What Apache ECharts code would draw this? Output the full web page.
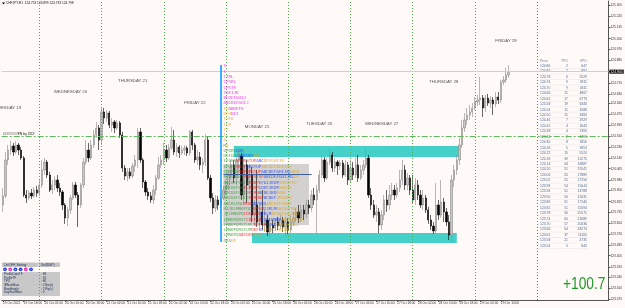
<!DOCTYPE html>
<html><head><meta charset="utf-8">
<script src="https://cdn.jsdelivr.net/npm/echarts@6/dist/echarts.min.js"></script>
<style>html,body{margin:0;padding:0;background:#fffaf7;}#c{width:625px;height:308px;}</style>
</head><body><div id="c"></div>
<script>
// ---------- DATA ----------
const symbolTitle = 'CHFJPY,H1  124.753 124.899 124.733 124.798';
const xTickLabels = ['19 Oct 2021','19 Oct 18:00','20 Oct 02:00','20 Oct 10:00','20 Oct 18:00','21 Oct 02:00','21 Oct 10:00','21 Oct 18:00','22 Oct 02:00','22 Oct 10:00','22 Oct 18:00','25 Oct 02:00','25 Oct 10:00','25 Oct 18:00','26 Oct 02:00','26 Oct 10:00','26 Oct 18:00','27 Oct 02:00','27 Oct 10:00','27 Oct 18:00','28 Oct 02:00','28 Oct 10:00','28 Oct 18:00','29 Oct 02:00','29 Oct 10:00'];
const priceTicks = [125.305,125.220,125.135,125.050,124.970,124.885,124.800,124.715,124.630,124.560,124.475,124.395,124.310,124.230,124.145,124.065,123.980,123.900,123.815,123.735,123.650,123.570,123.485,123.405,123.320,123.240,123.160,123.075];
// candles: [open, close, low, high]
const candles = [
[123.790,123.858,123.737,123.918],[123.858,124.131,123.843,124.191],[124.131,124.206,124.093,124.244],[124.206,124.237,124.168,124.275],
[124.237,124.191,124.161,124.259],[124.191,124.244,124.176,124.275],[124.244,124.206,124.168,124.259],[124.206,124.146,124.131,124.229],
[124.146,123.865,123.850,124.161],[123.865,123.843,123.805,123.903],[123.843,123.880,123.828,123.903],[123.880,123.858,123.835,123.911],
[123.858,123.903,123.843,123.926],[123.903,123.880,123.850,123.934],
[123.880,123.941,123.858,123.979],[123.941,124.055,123.918,124.131],[124.055,124.115,124.017,124.146],[124.115,124.017,123.994,124.131],
[124.017,123.903,123.888,124.040],[123.903,123.941,123.873,123.979],[123.941,123.979,123.903,124.009],[123.979,123.918,123.888,124.017],
[123.918,123.888,123.858,123.956],[123.888,123.790,123.752,123.903],[123.790,123.691,123.646,123.805],[123.691,123.752,123.630,123.775],
[123.752,123.843,123.721,123.865],[123.843,123.941,123.828,123.964],[123.941,123.865,123.843,123.964],[123.865,123.790,123.623,123.888],
[123.790,123.941,123.767,123.956],[123.941,124.115,123.918,124.146],[124.115,124.206,124.093,124.282],[124.206,124.146,124.115,124.259],
[124.146,124.244,124.131,124.282],[124.244,124.320,124.222,124.358],[124.320,124.373,124.297,124.419],[124.373,124.282,124.206,124.396],
[124.282,124.494,124.244,124.532],[124.494,124.449,124.403,124.525],[124.449,124.487,124.419,124.509],[124.487,124.396,124.373,124.502],
[124.396,124.419,124.343,124.449],[124.419,124.373,124.335,124.434],[124.373,124.411,124.358,124.434],[124.411,124.320,124.297,124.426],
[124.320,124.070,124.040,124.343],[124.070,124.009,123.979,124.093],[124.009,124.040,123.971,124.070],[124.040,124.009,123.987,124.070],
[124.009,124.085,123.994,124.108],[124.085,124.131,124.040,124.168],[124.131,124.343,124.070,124.373],[124.343,124.131,124.108,124.373],
[124.131,123.964,123.918,124.146],[123.964,123.888,123.858,123.979],[123.888,123.858,123.828,123.918],[123.858,123.828,123.805,123.888],
[123.828,123.903,123.797,123.941],[123.903,123.994,123.865,124.017],[123.994,124.093,123.979,124.153],[124.093,124.131,124.070,124.168],
[124.131,124.206,124.093,124.259],[124.206,124.146,124.115,124.244],[124.146,124.222,124.131,124.252],[124.222,124.282,124.206,124.381],
[124.282,124.191,124.168,124.358],[124.191,124.229,124.153,124.259],[124.229,124.184,124.146,124.244],[124.184,124.206,124.168,124.237],
[124.206,124.222,124.168,124.244],[124.222,124.184,124.161,124.237],[124.184,124.343,124.161,124.358],[124.343,124.244,124.206,124.358],
[124.244,124.131,124.108,124.259],[124.131,124.153,124.093,124.206],[124.153,124.093,124.055,124.191],[124.093,124.115,124.032,124.146],
[124.115,124.282,124.085,124.328],[124.282,123.994,123.979,124.305],[123.994,123.843,123.812,124.017],[123.843,123.767,123.721,123.880],
[123.767,123.828,123.737,123.865],[123.828,123.790,123.752,123.858],[123.790,123.843,123.767,123.865],[123.843,123.903,123.828,123.934],
[123.903,123.941,123.865,123.979],[123.941,124.017,123.903,124.055],[124.017,124.093,123.979,124.131],[124.093,123.994,123.956,124.131],
[123.994,124.131,123.941,124.153],[124.131,124.161,124.055,124.206],[124.161,123.865,123.828,124.184],[123.865,124.093,123.790,124.206],
[124.093,123.941,123.805,124.131],[123.941,124.017,123.903,124.093],[124.017,123.714,123.661,124.078],[123.714,123.790,123.638,123.828],
[123.790,123.661,123.623,124.055],[123.661,123.737,123.615,123.790],[123.737,123.638,123.600,123.903],[123.638,123.676,123.585,123.752],
[123.676,123.585,123.555,123.714],[123.585,123.638,123.547,123.691],[123.638,123.615,123.577,123.676],[123.615,123.661,123.593,123.691],
[123.661,123.630,123.600,123.699],[123.630,123.676,123.608,123.714],[123.676,123.623,123.585,123.699],[123.623,123.661,123.555,123.699],
[123.661,123.600,123.570,123.691],[123.600,123.661,123.577,123.714],[123.661,123.691,123.630,123.737],[123.691,123.737,123.661,123.767],
[123.737,123.691,123.653,123.790],[123.691,123.752,123.661,123.790],[123.752,123.721,123.676,123.790],[123.721,123.790,123.691,123.828],
[123.790,123.767,123.721,123.828],[123.767,123.865,123.737,123.903],[123.865,123.828,123.790,123.918],[123.828,123.903,123.577,123.941],
[123.903,124.017,123.880,124.055],[124.017,124.131,123.994,124.168],[124.131,123.994,123.964,124.153],[123.994,124.115,123.979,124.146],
[124.115,124.168,124.093,124.222],[124.168,124.070,124.040,124.191],[124.070,124.115,124.040,124.146],[124.115,124.085,124.017,124.131],
[124.085,124.108,124.055,124.131],[124.108,124.017,123.994,124.131],[124.017,124.093,124.002,124.131],[124.093,123.979,123.941,124.115],
[123.979,124.070,123.956,124.131],[124.070,124.017,123.979,124.115],[124.017,124.093,123.994,124.146],[124.093,123.994,123.964,124.168],
[123.994,124.055,123.979,124.093],[124.055,124.093,124.017,124.131],[124.093,124.146,124.070,124.214],[124.146,123.865,123.843,124.168],
[123.865,123.790,123.752,123.918],[123.790,123.714,123.691,123.828],[123.714,123.737,123.661,123.790],[123.737,123.638,123.577,123.767],
[123.638,123.714,123.600,123.752],[123.714,123.828,123.676,123.865],[123.828,123.790,123.737,123.903],[123.790,123.865,123.752,123.941],
[123.865,123.903,123.828,123.956],[123.903,123.865,123.828,123.941],[123.865,123.918,123.843,123.956],[123.918,123.979,123.888,124.055],
[123.979,124.055,123.941,124.131],[124.055,123.941,123.903,124.093],[123.941,123.994,123.903,124.032],[123.994,123.903,123.865,124.017],
[123.903,123.828,123.805,124.017],[123.828,123.941,123.790,123.994],[123.941,123.865,123.828,123.979],[123.865,123.790,123.767,123.903],
[123.790,123.843,123.752,123.903],[123.843,123.752,123.729,123.865],[123.752,123.676,123.646,123.775],[123.676,123.630,123.600,123.714],
[123.630,123.593,123.570,123.661],[123.593,123.790,123.577,123.956],[123.790,123.714,123.676,123.828],[123.714,123.812,123.691,123.979],
[123.812,123.737,123.661,123.843],[123.737,123.661,123.630,123.767],[123.661,123.562,123.524,123.714],[123.562,123.979,123.509,124.017],
[123.979,124.055,123.926,124.093],[124.055,124.131,124.017,124.168],[124.131,124.244,124.093,124.297],[124.244,124.373,124.222,124.434],
[124.373,124.434,124.343,124.487],[124.434,124.472,124.396,124.525],[124.472,124.494,124.434,124.547],[124.494,124.525,124.456,124.562],
[124.525,124.570,124.509,124.608],[124.570,124.585,124.540,124.623],[124.585,124.600,124.547,124.760],[124.600,124.525,124.456,124.623],
[124.525,124.600,124.494,124.623],[124.600,124.562,124.540,124.631],[124.562,124.585,124.525,124.615],[124.585,124.555,124.472,124.608],
[124.555,124.608,124.532,124.646],[124.608,124.585,124.555,124.646],[124.585,124.722,124.562,124.737],[124.722,124.737,124.699,124.767],
[124.737,124.775,124.714,124.828],[124.775,124.800,124.752,124.850]
];
const dayStartIdx = [14,38,62,86,110,134,158,182];
const dayNames = ['TUESDAY 19','WEDNESDAY 20','THURSDAY 21','FRIDAY 22','MONDAY 25','TUESDAY 26','WEDNESDAY 27','THURSDAY 28','FRIDAY 29'];
const dayLabelIdx = [2,26,50,74,98,122,146,170,194];
const dayLabelPrices = [124.525,124.646,124.729,124.562,124.381,124.403,124.403,124.722,125.032];
const bidPrice = 124.800;
const levelPrice = 124.305;
const levelText = '########FN by XXX';
const upperZone = [89,176,124.237,124.153];
const lowerZone = [96,175,123.577,123.502];
const valueArea = [85,118,124.100,123.638];
const pocLine = [85,119,124.024];
const profileStartIdx = 84;
const profileRange = [124.850,123.509];
const tpoPrices = [124.86,124.82,124.78,124.74,124.70,124.66,124.62,124.58,124.54,124.50,124.46,124.42,124.38,124.34,124.30,124.26,124.22,124.18,124.14,124.10,124.06,124.02,123.98,123.94,123.90,123.86,123.82,123.78,123.74,123.70,123.66,123.62,123.58,123.54];
const tpoCounts = [2,2,6,9,9,11,17,19,11,11,7,4,4,2,8,5,15,39,44,51,55,55,54,51,50,51,51,56,60,57,54,37,21,5];
const vpoValues = [647,892,2529,3911,4311,4867,6773,6340,3588,3484,2929,1643,1390,1290,1850,1853,5524,12275,16887,15541,17889,17256,15644,14788,15631,17140,15594,20571,21689,20036,18274,11165,4735,845];
const tpoLetters = [
 [['S','m']],[['S','m']],[['CTRL','m']],[['CPSRL','m']],[['CPSTR','m']],[['CDEIJK','m']],[['BCDEFGHIJ','m']],[['ABCDEFGHIJ','m']],
 [['FH','o'],['ABDEFH','m']],[['DFH','o'],['DEI','m']],[['TUFD','o']],[['TUP','o']],[['TT','o']],[['T','o']],[['S','o']],[['M','g'],['Q','o']],
 [['OPQRS','g'],['CDE','b'],['IJ','o']],
 [['DEFGHI','g'],['ABCDEF','b'],['GH','o']],
 [['EFGHI','g'],['OPQRSTUP','r'],['ABC','b'],['DEFGHIJK','o']],
 [['EFGHI','g'],['MNOP','r'],['QRSTUP','b'],['ABCDEFGHIJOP','o']],
 [['CDEFGH','g'],['NOPQRSTUP','r'],['ABCDEFGHIJKL','b'],['OPQ','o']],
 [['ACDEFGHI','g'],['MNOPSTUP','r'],['ABCDEFGHIJKL','b'],['OP','o']],
 [['ABCDEFGHIJ','g'],['MNOP','r'],['EFGIJKOP','b'],['ABCDEFG','o']],
 [['ABCDEFGH','g'],['KLMNOP','r'],['CDEFJKOP','b'],['ABCDE','o']],
 [['ABCDEFGHI','g'],['JKLMN','r'],['BCDEJKO','b'],['PABC','o']],
 [['ABCDEFGHIJ','g'],['KLMNOP','r'],['BCDEF','b'],['JKLOPQ','o']],
 [['ABCKLPQ','g'],['LMNO','r'],['NOPQRS','b'],['ABCDEFGHOP','o']],
 [['HIJKLMNOPQ','g'],['CDEFGH','r'],['IJKLM','b'],['ABCDEFGH','o']],
 [['JKLMNOPQ','g'],['CDEFGH','r'],['IJKLM','b'],['AFGHIJKLMNO','o']],
 [['LMNOPQRST','g'],['CDEFGH','r'],['IJKLMNOP','b'],['ABCDEFGHI','o']],
 [['LMNOPQRSTUP','g'],['CDEFGH','r'],['IJKL','b'],['DEFGHIJKL','o']],
 [['LMNOPQRSTUP','g'],['DEF','r'],['KL','b'],['EFGHIJKLMN','o']],
 [['LMNOPQ','g'],['ABCDEF','r'],['OPQ','o']],
 [['QRS','g'],['UP','o']]
];
const profitText = '+100.7';
const panelHeader = ['On/OFF Setting','Del(R&P)'];
const panelKeys = ['ProfileDataTF','ProfileTF','TPO','IBNumBars','RowHeight','DayStartHour'];
const panelVals = [': H1',': D1',': H1',': 2 Bar(s)',': 2 Pip(s)',': 0'];
const panelDots = ['b','m','b','b','m','b'];

// ---------- BUILD ----------
const N_CAT = 234;
const MON = ['Jan','Feb','Mar','Apr','May','Jun','Jul','Aug','Sep','Oct','Nov','Dec'];
const categories = [];
(function(){
  let t = Date.UTC(2021,9,19,10);
  for (let i=0;i<N_CAT;i++){
    const d = new Date(t);
    categories.push(String(d.getUTCDate()).padStart(2,'0')+' '+MON[d.getUTCMonth()]+' '+String(d.getUTCHours()).padStart(2,'0')+':00');
    if (d.getUTCDay()===5 && d.getUTCHours()===23) t += 48*3600e3;
    t += 3600e3;
  }
})();
const FONT = 'Liberation Sans, Arial, sans-serif';
const COLORS = {m:'#e010e0', o:'#d9a21b', g:'#2f9a3a', r:'#f01818', b:'#1438ff'};
const tickShow = (i)=> i%8===0 && i<=192;
const cat = (i)=>categories[i];

const chart = echarts.init(document.getElementById('c'));
const sepLines = dayStartIdx.map(i=>({xAxis:cat(i), lineStyle:{color:'#4fae4f', type:[1,2], width:1}}));

const rich = {};
Object.keys(COLORS).forEach(k=>{ rich[k] = {color:COLORS[k], fontSize:4.2, fontFamily:'DejaVu Sans Mono, monospace'}; });

const option = {
  backgroundColor:'#fffaf7',
  animation:false,
  grid:{left:0,right:14,top:1,bottom:8},
  xAxis:{type:'category',data:categories,boundaryGap:true,
    axisLine:{lineStyle:{color:'#555',width:1}},
    axisTick:{show:true,alignWithLabel:true,interval:(i)=>tickShow(i),length:2,lineStyle:{color:'#555'}},
    axisLabel:{interval:(i)=>tickShow(i),formatter:(v,i)=>xTickLabels[i/8],fontSize:3.2,color:'#333',align:'left',margin:2,fontFamily:FONT},
    splitLine:{show:false}},
  yAxis:{type:'value',position:'right',min:123.0697,max:125.3353,
    axisLine:{show:true,lineStyle:{color:'#555',width:1}},
    axisTick:{show:true,customValues:priceTicks,length:2,lineStyle:{color:'#555'}},
    axisLabel:{customValues:priceTicks,formatter:(v)=>v.toFixed(3),fontSize:3.2,color:'#333',margin:2,fontFamily:FONT},
    splitLine:{show:false}},
  series:[
    {type:'line',data:[],z:1,silent:true,
     markArea:{silent:true,data:[
       [{xAxis:cat(upperZone[0]),yAxis:upperZone[2],itemStyle:{color:'#46d0ca'}},{xAxis:cat(upperZone[1]),yAxis:upperZone[3]}],
       [{xAxis:cat(lowerZone[0]),yAxis:lowerZone[2],itemStyle:{color:'#46d0ca'}},{xAxis:cat(lowerZone[1]),yAxis:lowerZone[3]}],
       [{xAxis:cat(valueArea[0]),yAxis:valueArea[2],itemStyle:{color:'rgba(175,175,175,0.55)'}},{xAxis:cat(valueArea[1]),yAxis:valueArea[3]}]
     ]},
     markLine:{silent:true,symbol:['none','none'],label:{show:false},animation:false,data:[
       ...sepLines,
       {xAxis:cat(206),lineStyle:{color:'#777',type:[1,2],width:1}},
       {yAxis:bidPrice,lineStyle:{color:'#cfcfcf',type:'solid',width:1},
        label:{show:true,position:'end',distance:1,formatter:bidPrice.toFixed(3),backgroundColor:'#000',color:'#fff',fontSize:3.4,padding:[1,1,0,1],fontFamily:FONT}},
       {yAxis:levelPrice,lineStyle:{color:'#5fba5f',type:[6,2,2,2],width:1},
        label:{show:true,position:'insideStartTop',distance:1,formatter:levelText,color:'#111',fontSize:3.4,fontFamily:FONT}},
       [{coord:[cat(profileStartIdx),profileRange[0]],lineStyle:{color:'#0a9cff',type:'solid',width:1.6}},{coord:[cat(profileStartIdx),profileRange[1]]}],
       [{coord:[cat(pocLine[0]),pocLine[2]],lineStyle:{color:'#3d5fa0',type:'solid',width:1}},{coord:[cat(pocLine[1]),pocLine[2]]}]
     ]}},
    {type:'candlestick',data:candles,z:3,barWidth:1.8,
     itemStyle:{color:'#c6c6c6',color0:'#000000',borderColor:'#8a8a8a',borderColor0:'#000000',borderWidth:0.6}},
    {type:'scatter',z:4,silent:true,symbolSize:0.1,itemStyle:{color:'transparent'},
     data:dayLabelIdx.map((x,i)=>[x,dayLabelPrices[i]]),
     label:{show:true,position:'inside',formatter:(p)=>dayNames[p.dataIndex],fontSize:4.3,color:'#222',fontFamily:FONT}},
    {type:'scatter',z:5,silent:true,symbolSize:0.1,itemStyle:{color:'transparent'},
     data:tpoPrices.map(p=>[profileStartIdx+1,p-0.02]),
     label:{show:true,position:'right',distance:0,fontSize:4.2,fontFamily:'DejaVu Sans Mono, monospace',
       formatter:(p)=>tpoLetters[p.dataIndex].map(s=>'{'+s[1]+'|'+s[0]+'}').join(''),rich:rich}}
  ]
};
chart.setOption(option);

// overlays: header, table, panel, profit
const g = [];
g.push({type:'polygon',shape:{points:[[2,2.5],[5,2.5],[3.5,4.5]]},style:{fill:'#000'}});
g.push({type:'text',style:{text:symbolTitle,x:6,y:3.5,font:'3.2px '+FONT,fill:'#111',verticalAlign:'middle'}});
// table
g.push({type:'text',style:{text:'Price',x:540,y:61,font:'3.4px '+FONT,fill:'#6a7f9c',verticalAlign:'middle'}});
g.push({type:'text',style:{text:'TPO',x:568,y:61,font:'3.4px '+FONT,fill:'#6a7f9c',align:'right',verticalAlign:'middle'}});
g.push({type:'text',style:{text:'VPO',x:587,y:61,font:'3.4px '+FONT,fill:'#6a7f9c',align:'right',verticalAlign:'middle'}});
tpoPrices.forEach((p,k)=>{
  const y = 66 + k*5.45;
  g.push({type:'line',shape:{x1:539,y1:y+2.6,x2:589,y2:y+2.6},style:{stroke:'#e6e2e2',lineWidth:0.5}});
  g.push({type:'text',style:{text:p.toFixed(2),x:540,y:y,font:'3.4px '+FONT,fill:'#4f6a90',verticalAlign:'middle'}});
  g.push({type:'text',style:{text:String(tpoCounts[k]),x:568,y:y,font:'3.4px '+FONT,fill:'#4f6a90',align:'right',verticalAlign:'middle'}});
  g.push({type:'text',style:{text:String(vpoValues[k]),x:587,y:y,font:'3.4px '+FONT,fill:'#4f6a90',align:'right',verticalAlign:'middle'}});
});
// panel
g.push({type:'rect',shape:{x:2,y:262.5,width:58,height:4.5},style:{fill:'#c4c4c4'}});
g.push({type:'line',shape:{x1:38,y1:262.5,x2:38,y2:267},style:{stroke:'#fff',lineWidth:0.5}});
g.push({type:'text',style:{text:panelHeader[0],x:4,y:264.8,font:'3.2px '+FONT,fill:'#1c2c5c',verticalAlign:'middle'}});
g.push({type:'text',style:{text:panelHeader[1],x:41,y:264.8,font:'3.2px '+FONT,fill:'#1c2c5c',verticalAlign:'middle'}});
panelDots.forEach((c,i)=>{
  g.push({type:'circle',shape:{cx:5+i*5.2,cy:269.3,r:1.9},style:{fill:c==='b'?'#2a44e0':'#e030b0'}});
  g.push({type:'text',style:{text:String(i+1),x:5+i*5.2,y:269.3,font:'2.4px '+FONT,fill:'#fff',align:'center',verticalAlign:'middle'}});
});
g.push({type:'rect',shape:{x:2,y:272,width:58,height:24},style:{fill:'#c8c8c8'}});
panelKeys.forEach((k,i)=>{
  const y = 274.2 + i*3.65;
  g.push({type:'text',style:{text:k,x:4,y:y,font:'3px '+FONT,fill:'#1c2c5c',verticalAlign:'middle'}});
  g.push({type:'text',style:{text:panelVals[i],x:41,y:y,font:'3px '+FONT,fill:'#1c2c5c',verticalAlign:'middle'}});
});
g.push({type:'text',x:563,y:285,scaleX:0.86,style:{text:profitText,x:0,y:0,font:'16px '+FONT,fill:'#1e9a2a',align:'left',verticalAlign:'middle'}});
chart.setOption({graphic:g});
</script></body></html>
